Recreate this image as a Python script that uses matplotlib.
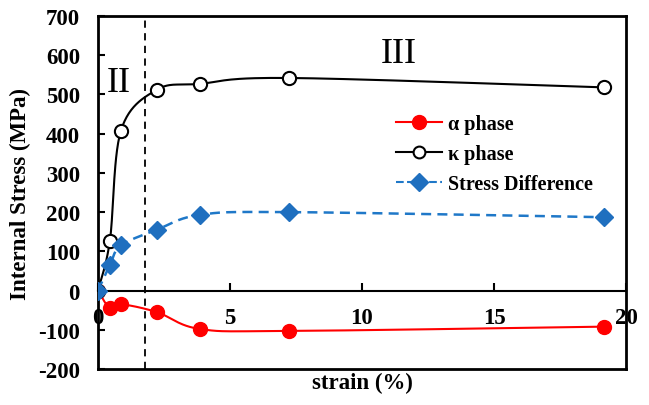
import numpy as np
import matplotlib
matplotlib.use("Agg")
import matplotlib.pyplot as plt

plt.rcParams['font.family'] = ['Liberation Serif', 'DejaVu Serif']
plt.rcParams['axes.unicode_minus'] = False

strain = [0, 0.45, 0.87, 2.23, 3.86, 7.23, 19.17]
alpha_stress = [0, -45, -35, -55, -98, -103, -92]
kappa_stress = [0, 127, 408, 512, 527, 542, 518]
diff_stress = [0, 65, 115, 155, 193, 200, 187]
xticks = [0, 5, 10, 15, 20]
yticks = [-200, -100, 0, 100, 200, 300, 400, 500, 600, 700]


def smooth(x, y, n=30):
    # catmull-rom style smoothing like excel's smoothed lines
    x = np.asarray(x, float)
    y = np.asarray(y, float)
    px = np.concatenate([[x[0]], x, [x[-1]]])
    py = np.concatenate([[y[0]], y, [y[-1]]])
    xs, ys = [], []
    t = np.linspace(0, 1, n)
    for i in range(1, len(px) - 2):
        p0, p1, p2, p3 = px[i-1], px[i], px[i+1], px[i+2]
        q0, q1, q2, q3 = py[i-1], py[i], py[i+1], py[i+2]
        m1x, m2x = (p2 - p0) / 6, (p3 - p1) / 6
        m1y, m2y = (q2 - q0) / 6, (q3 - q1) / 6
        bx = (1-t)**3*p1 + 3*(1-t)**2*t*(p1+m1x) + 3*(1-t)*t**2*(p2-m2x) + t**3*p2
        by = (1-t)**3*q1 + 3*(1-t)**2*t*(q1+m1y) + 3*(1-t)*t**2*(q2-m2y) + t**3*q2
        xs.append(bx)
        ys.append(by)
    return np.concatenate(xs), np.concatenate(ys)


fig = plt.figure(figsize=(6.49, 4.06), dpi=100)
ax = fig.add_axes([98/649, 1 - 370/406, 528/649, 353/406])

sx, sy = smooth(strain, alpha_stress)
ax.plot(sx, sy, color='red', lw=1.5, zorder=3)
ax.plot(strain, alpha_stress, 'o', color='red', ms=10, zorder=4)

sx, sy = smooth(strain, kappa_stress)
ax.plot(sx, sy, color='black', lw=1.5, zorder=3)
ax.plot(strain, kappa_stress, 'o', mfc='white', mec='black', mew=1.5, ms=9.5, zorder=4)

sx, sy = smooth(strain, diff_stress)
ax.plot(sx, sy, color='#1f78c8', lw=1.8, ls=(0, (4, 2.5)), zorder=3)
ax.plot(strain, diff_stress, 'D', color='#1f6fbf', ms=9, zorder=5)

# legend handles
ax.plot([], [], '-o', color='red', ms=10, lw=1.5, label='α phase')
ax.plot([], [], '-o', color='black', mfc='white', mew=1.5, ms=8.5, lw=1.5, label='κ phase')
ax.plot([], [], '--D', color='#1f78c8', mfc='#1f6fbf', mec='#1f6fbf', ms=9, lw=1.5, label='Stress Difference')
h, l = ax.get_legend_handles_labels()
ax.legend(h[-3:], l[-3:], loc='upper left', bbox_to_anchor=(0.53, 0.775), frameon=False,
          prop={'weight': 'bold', 'size': 14.5}, handlelength=2.3, labelspacing=0.5,
          handletextpad=0.3)

ax.axvline(1.78, color='black', ls=(0, (4, 3)), lw=1.3)
ax.text(0.8, 530, 'II', fontsize=26, ha='center', va='center')
ax.text(11.4, 605, 'III', fontsize=26, ha='center', va='center')

ax.set_xlim(0, 20)
ax.set_ylim(-200, 700)
ax.set_yticks(yticks)
ax.tick_params(axis='y', direction='in', length=5, width=1.5, labelsize=16.5, pad=13)
for lab in ax.get_yticklabels():
    lab.set_fontweight('bold')
ax.set_xticks([])
for s in ax.spines.values():
    s.set_linewidth(2)

sec = ax.secondary_xaxis(200/900)
sec.set_xticks(xticks)
sec.spines['bottom'].set_linewidth(1.5)
sec.tick_params(direction='in', length=6, width=1.5, labelsize=16.5, pad=12)
for lab in sec.get_xticklabels():
    lab.set_fontweight('bold')

ax.set_ylabel('Internal Stress (MPa)', fontsize=16.5, fontweight='bold', labelpad=5)
ax.set_xlabel('strain (%)', fontsize=16.5, fontweight='bold', labelpad=2)

fig.savefig('out.png', dpi=100)
